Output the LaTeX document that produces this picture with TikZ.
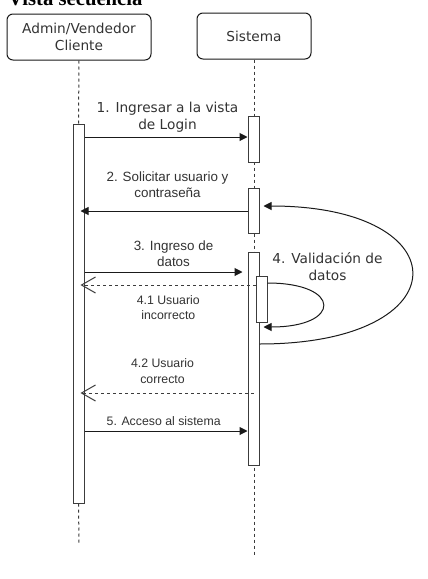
\documentclass[tikz,border=0pt]{standalone}
\usepackage{fontspec}
\setmainfont{Liberation Serif}
\newfontfamily\dvs{DejaVu Sans}
\newfontfamily\ars{Liberation Sans}
\usetikzlibrary{arrows.meta,calc}
\definecolor{txt}{HTML}{333333}
\definecolor{ln}{HTML}{1A1A1A}
\begin{document}
\begin{tikzpicture}[x=1pt,y=-1pt,
  lifebox/.style={draw=ln,line width=1pt,rounded corners=6pt,fill=white,text=txt,align=center,inner sep=0pt,
    font=\dvs\fontsize{13.7}{16.5}\selectfont},
  actbar/.style={draw=ln!85,line width=1pt,fill=white,minimum width=11pt,inner sep=0pt},
  lifeline/.style={draw=ln!85,line width=1pt,dash pattern=on 3pt off 3pt},
  msg/.style={draw=ln,line width=1pt,-{Triangle[length=8pt,width=8pt]}},
  ret/.style={draw=ln!85,line width=1pt,dash pattern=on 3pt off 3pt,-{Straight Barb[length=14pt,width=16pt,line width=1pt]}},
  lblD/.style={text=txt,align=center,inner sep=0pt,font=\dvs\fontsize{13.7}{16.7}\selectfont},
  lblA/.style={text=txt,align=center,inner sep=0pt,font=\ars\fontsize{13.4}{16}\selectfont},
  lblS/.style={text=txt,align=center,inner sep=0pt,font=\ars\fontsize{12.3}{15.5}\selectfont},
]
\useasboundingbox (0,0) rectangle (428,579);
\fill[white] (0,0) rectangle (428,579);

% title (cut at top)
\node[anchor=base west,inner sep=0pt,font=\bfseries\fontsize{20.7}{24}\selectfont] (title) at (8,5) {Vista secuencia};

% lifeline heads
\node[lifebox,minimum width=144pt,minimum height=46pt] (A) at (79,37) {Admin/Vendedor\\Cliente};
\node[lifebox,minimum width=114pt,minimum height=46pt] (S) at (254,36) {Sistema};

% lifelines
\coordinate (Aend) at (79,543);
\coordinate (Send) at (254,555);
\draw[lifeline] (S.south) -- (Send);

% activation bars
\node[actbar,minimum height=379pt] (LA) at (78.5,313.5) {};
\draw[lifeline] (A.south) -- (LA.north);
\draw[lifeline] (LA.south) -- (Aend);
\node[actbar,minimum height=46pt] (R1) at (253.5,139) {};
\node[actbar,minimum height=45pt] (R2) at (253.5,210.5) {};
\node[actbar,minimum height=213pt] (R3) at (253.5,358.5) {};
\node[actbar,minimum height=46pt] (R4) at (261.5,299) {};

% helper coordinates
\coordinate (t41) at ($(LA.east|-0,285)+(-4,0)$);
\coordinate (t42) at ($(LA.east|-0,393)+(-4,0)$);
\coordinate (t2) at ($(LA.east|-0,211)+(-4,0)$);
\coordinate (tloop) at ($(R3.east|-0,327)+(4,0)$);
\coordinate (tbig) at ($(R2.east|-0,206)+(4,0)$);

% messages
\draw[msg] (LA.east|-0,137) -- (R1.west|-0,137);
\draw[msg] (R2.west|-0,211) -- (t2);
\draw[msg,shorten >=5pt] (LA.east|-0,272) -- (R3.west|-0,272);
\draw[ret] (R4.west|-0,285) -- (t41);
\draw[ret] (R3.center|-0,393) -- (t42);
\draw[msg] (LA.east|-0,431) -- (R3.west|-0,431);

% self calls
\draw[msg] (R4.east|-0,283) .. controls (342,283) and (342,327) .. (tloop);
\draw[msg] (R3.east|-0,344) .. controls (462,344) and (462,206) .. (tbig);

% labels
\node[lblD] (l1) at (167.5,117.5) {1. Ingresar a la vista\\de Login};
\node[lblA] (l2) at (167.5,184.7) {2. Solicitar usuario y\\contraseña};
\node[lblA] (l3) at (173.5,253.3) {3. Ingreso de\\datos};
\node[lblS] (l41) at (168.3,307.5) {4.1 Usuario\\incorrecto};
\node[lblD] (l4) at (327.5,266.5) {4. Validación de\\datos};
\node[lblS] (l42) at (162.5,371.3) {4.2 Usuario\\correcto};
\node[lblS] (l5) at (163.7,420.7) {5. Acceso al sistema};
\end{tikzpicture}
\end{document}
